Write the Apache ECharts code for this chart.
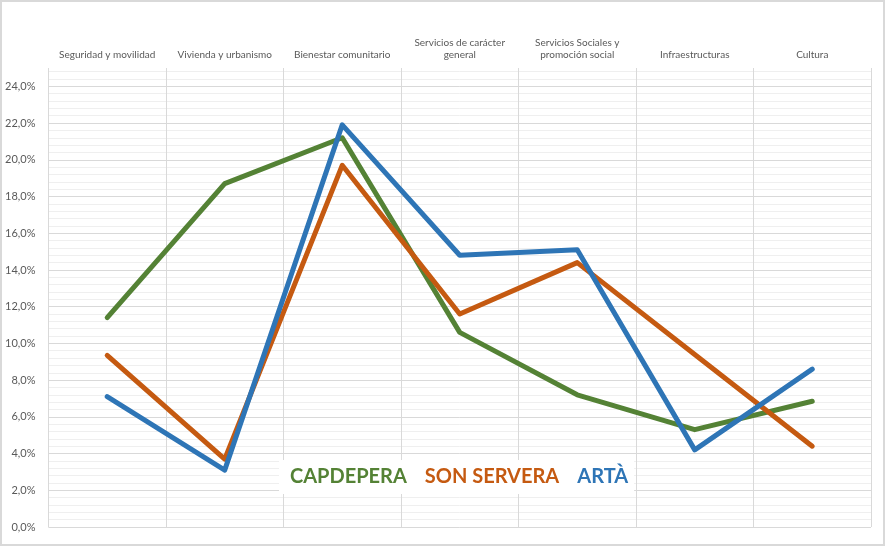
<!DOCTYPE html>
<html>
<head>
<meta charset="utf-8">
<script src="https://cdn.jsdelivr.net/npm/echarts@6/dist/echarts.min.js"></script>
<style>
  html, body { margin: 0; padding: 0; background: #fff; }
  #chart { width: 885px; height: 546px; box-sizing: border-box; border: 2px solid #d9d9d9; }
</style>
</head>
<body>
<div id="chart"></div>
<script>
// categories (top axis)
let categories = [
  'Seguridad y movilidad',
  'Vivienda y urbanismo',
  'Bienestar comunitario',
  'Servicios de carácter\ngeneral',
  'Servicios Sociales y\npromoción social',
  'Infraestructuras',
  'Cultura'
];

// values in %
let capdepera = [11.4, 18.7, 21.2, 10.6, 7.2, 5.3, 6.85];
let sonServera = [9.35, 3.7, 19.7, 11.6, 14.4, 9.4, 4.4];
let arta = [7.1, 3.1, 21.9, 14.8, 15.1, 4.2, 8.6];

let seriesNames = ['CAPDEPERA', 'SON SERVERA', 'ARTÀ'];
let seriesColors = ['#548235', '#c55a11', '#2e75b6'];

function pct(value) {
  return value.toFixed(1).replace('.', ',') + '%';
}

let myChart = echarts.init(document.getElementById('chart'));

let seriesData = [capdepera, sonServera, arta];
let series = seriesData.map(function (d, i) {
  return {
    name: seriesNames[i],
    type: 'line',
    yAxisIndex: 1,
    data: d,
    symbol: 'none',
    smooth: false,
    lineStyle: { width: 5, color: seriesColors[i], cap: 'round', join: 'round' },
    itemStyle: { color: seriesColors[i] }
  };
});

myChart.setOption({
  animation: false,
  textStyle: { fontFamily: 'Lato' },
  grid: { left: 46, right: 12, top: 66, bottom: 17 },
  legend: {
    left: 277,
    top: 458,
    padding: [6, 6],
    backgroundColor: '#fff',
    itemWidth: 0,
    itemHeight: 0,
    itemGap: 13,
    icon: 'none',
    selectedMode: false,
    data: seriesNames.map(function (n, i) {
      return {
        name: n,
        textStyle: { color: seriesColors[i], fontSize: 20, fontWeight: 'bold', fontFamily: 'Lato', lineHeight: 22 }
      };
    })
  },
  xAxis: {
    type: 'category',
    position: 'top',
    data: categories,
    boundaryGap: true,
    axisLine: { show: false },
    axisTick: { show: false },
    axisLabel: { color: '#595959', fontSize: 10, lineHeight: 12, margin: 7, interval: 0 },
    splitLine: { show: true, lineStyle: { color: '#d9d9d9', width: 1 } }
  },
  yAxis: [
    {
      // minor grid lines
      type: 'value',
      position: 'left',
      min: 0,
      max: 25,
      interval: 0.4,
      axisLine: { show: false },
      axisTick: { show: false },
      axisLabel: { show: false },
      splitLine: { show: true, showMaxLine: false, lineStyle: { color: '#efefef', width: 1 } }
    },
    {
      type: 'value',
      position: 'left',
      min: 0,
      max: 25,
      interval: 2,
      axisLine: { show: false },
      axisTick: { show: false },
      axisLabel: {
        color: '#595959',
        fontSize: 11,
        margin: 13,
        showMaxLabel: false,
        formatter: function (v) { return v === 25 ? '' : pct(v); }
      },
      splitLine: { show: true, showMaxLine: false, lineStyle: { color: '#d9d9d9', width: 1 } }
    }
  ],
  series: series
});
</script>
</body>
</html>
